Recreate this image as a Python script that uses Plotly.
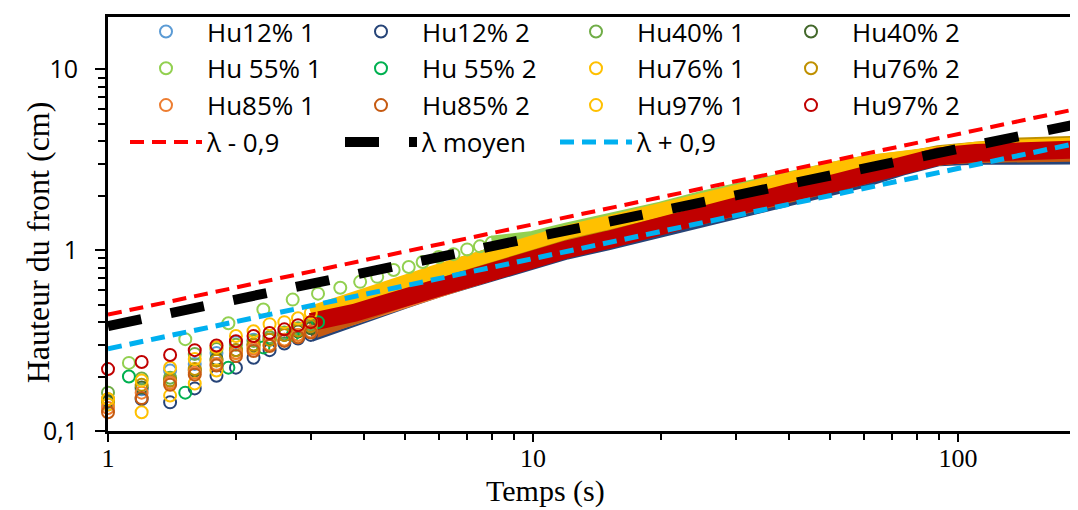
import plotly.graph_objects as go

# ---------------- data ----------------
T = [1.0, 1.2, 1.4, 1.6, 1.8, 2.0, 2.2, 2.4, 2.6, 2.8, 3.0, 3.4, 3.8, 4.4, 5.0, 6.0, 7.0, 8.5,
     10, 12, 15, 20, 25, 32, 40, 50, 60, 75, 90, 110, 140, 190]
T55 = [1.12, 1.52, 1.92, 2.32, 2.72, 3.12, 3.52, 3.92, 4.3, 4.7, 5.1, 5.5, 6.0, 6.5, 7.0, 7.5, 8.0,
       10, 12, 15, 20, 25, 32, 40, 50, 60, 75, 90, 110, 140, 190]

HU12_1 = [0.14, 0.17, 0.216, 0.235, 0.27, 0.31, 0.32, 0.33, 0.345, 0.36, 0.375, 0.40, 0.44, 0.49, 0.54, 0.62,
          0.70, 0.81, 0.91, 1.02, 1.15, 1.36, 1.55, 1.80, 2.03, 2.28, 2.56, 2.95, 3.24, 3.32, 3.36, 3.40]
HU12_2 = [0.148, 0.15, 0.144, 0.172, 0.202, 0.224, 0.254, 0.28, 0.305, 0.325, 0.34, 0.38, 0.42, 0.47, 0.52, 0.60,
          0.67, 0.77, 0.87, 0.97, 1.09, 1.28, 1.45, 1.67, 1.88, 2.12, 2.42, 2.85, 3.18, 3.24, 3.25, 3.26]
HU40_1 = [0.163, 0.195, 0.197, 0.267, 0.284, 0.30, 0.315, 0.33, 0.35, 0.37, 0.39, 0.43, 0.49, 0.55, 0.61, 0.70,
          0.78, 0.90, 1.01, 1.14, 1.29, 1.52, 1.75, 2.02, 2.28, 2.55, 2.80, 3.08, 3.28, 3.42, 3.52, 3.60]
HU40_2 = [0.145, 0.174, 0.19, 0.216, 0.25, 0.28, 0.30, 0.32, 0.34, 0.355, 0.37, 0.41, 0.45, 0.50, 0.56, 0.65,
          0.73, 0.85, 0.95, 1.07, 1.21, 1.44, 1.64, 1.90, 2.14, 2.40, 2.68, 3.02, 3.30, 3.40, 3.46, 3.50]
HU55_1 = [0.238, 0.322, 0.394, 0.47, 0.533, 0.575, 0.62, 0.668, 0.712, 0.777, 0.808, 0.86, 0.916, 0.951, 1.01,
          1.05, 1.10, 1.17, 1.30, 1.45, 1.70, 1.95, 2.25, 2.52, 2.80, 3.05, 3.28, 3.45, 3.60, 3.72, 3.82]
HU55_2 = [0.20, 0.163, 0.224, 0.29, 0.34, 0.40, 0.46, 0.51, 0.56, 0.61, 0.66, 0.70, 0.76, 0.81, 0.86, 0.90,
          0.95, 1.08, 1.20, 1.36, 1.60, 1.82, 2.10, 2.38, 2.65, 2.92, 3.18, 3.38, 3.52, 3.62, 3.70]
HU76_1 = [0.14, 0.127, 0.157, 0.183, 0.216, 0.27, 0.29, 0.30, 0.32, 0.34, 0.40, 0.46, 0.50, 0.56, 0.62, 0.72,
          0.80, 0.93, 1.04, 1.17, 1.32, 1.56, 1.79, 2.06, 2.33, 2.60, 2.84, 3.07, 3.23, 3.37, 3.48, 3.57]
HU76_2 = [0.15, 0.18, 0.19, 0.22, 0.245, 0.28, 0.30, 0.32, 0.34, 0.36, 0.38, 0.44, 0.48, 0.53, 0.59, 0.68,
          0.76, 0.88, 0.99, 1.11, 1.26, 1.49, 1.71, 1.98, 2.26, 2.55, 2.85, 3.20, 3.48, 3.70, 3.84, 3.92]
HU85_1 = [0.134, 0.163, 0.185, 0.21, 0.235, 0.27, 0.285, 0.30, 0.32, 0.34, 0.355, 0.39, 0.43, 0.48, 0.53, 0.61,
          0.69, 0.80, 0.90, 1.01, 1.14, 1.35, 1.53, 1.78, 2.00, 2.25, 2.55, 2.95, 3.25, 3.33, 3.38, 3.42]
HU85_2 = [0.127, 0.152, 0.18, 0.205, 0.23, 0.26, 0.277, 0.295, 0.315, 0.33, 0.35, 0.39, 0.43, 0.48, 0.54, 0.62,
          0.69, 0.80, 0.90, 1.00, 1.13, 1.33, 1.51, 1.74, 1.96, 2.21, 2.52, 2.94, 3.26, 3.32, 3.35, 3.38]
HU97_1 = [0.15, 0.19, 0.224, 0.25, 0.29, 0.335, 0.356, 0.39, 0.40, 0.42, 0.45, 0.50, 0.54, 0.60, 0.67, 0.77,
          0.86, 1.00, 1.12, 1.26, 1.42, 1.68, 1.92, 2.22, 2.50, 2.80, 3.05, 3.30, 3.50, 3.64, 3.75, 3.84]
HU97_2 = [0.22, 0.241, 0.263, 0.28, 0.297, 0.314, 0.335, 0.348, 0.365, 0.385, 0.40, 0.42, 0.45, 0.50, 0.55, 0.63,
          0.70, 0.80, 0.90, 1.01, 1.14, 1.38, 1.58, 1.85, 2.08, 2.32, 2.62, 3.00, 3.30, 3.45, 3.53, 3.60]

LAMBDA_T = [1, 200]
LAMBDA_MINUS = [0.44, 6.2]
LAMBDA_MEAN = [0.38, 5.1]
LAMBDA_PLUS = [0.285, 4.0]

X_TICKS = [1, 10, 100]
X_TICKTEXT = ["1", "10", "100"]
Y_TICKS = [0.1, 1, 10]
Y_TICKTEXT = ["0,1", "1", "10"]

# name, times, heights
SERIES = [
    ("Hu12% 1", T, HU12_1),
    ("Hu12% 2", T, HU12_2),
    ("Hu40% 1", T, HU40_1),
    ("Hu40% 2", T, HU40_2),
    ("Hu 55% 1", T55, HU55_1),
    ("Hu 55% 2", T55, HU55_2),
    ("Hu76% 1", T, HU76_1),
    ("Hu76% 2", T, HU76_2),
    ("Hu85% 1", T, HU85_1),
    ("Hu85% 2", T, HU85_2),
    ("Hu97% 1", T, HU97_1),
    ("Hu97% 2", T, HU97_2),
]

# ---------------- styles ----------------
COLORS = {
    "Hu12% 1": "#5B9BD5", "Hu12% 2": "#264478",
    "Hu40% 1": "#70AD47", "Hu40% 2": "#43682B",
    "Hu 55% 1": "#92D050", "Hu 55% 2": "#00B050",
    "Hu76% 1": "#FFC000", "Hu76% 2": "#BF9000",
    "Hu85% 1": "#ED7D31", "Hu85% 2": "#C55A11",
    "Hu97% 1": "#FFC000", "Hu97% 2": "#C00000",
}
# how many early samples are drawn as separate circles; the rest form the dense band
N_RINGS = {"Hu 55% 1": 17, "Hu 55% 2": 6}
BAND_W = {"Hu97% 2": 18}

SANS = "Open Sans, Noto Sans, sans-serif"
SERIF = "Liberation Serif, serif"

fig = go.Figure()

# dense band (overlapping circles) drawn as thick strokes
for name, t, h in SERIES:
    n = N_RINGS.get(name, 11)
    fig.add_trace(go.Scatter(
        x=t[n - 1:], y=h[n - 1:], mode="lines", showlegend=False, hoverinfo="skip",
        line=dict(color=COLORS[name], width=BAND_W.get(name, 14)),
    ))

# individual early circles (legend entries)
for name, t, h in SERIES:
    n = N_RINGS.get(name, 11)
    fig.add_trace(go.Scatter(
        x=t[:n], y=h[:n], mode="markers", name=name, cliponaxis=False,
        marker=dict(symbol="circle-open", size=12, color=COLORS[name],
                    line=dict(width=2, color=COLORS[name])),
    ))

fig.add_trace(go.Scatter(x=LAMBDA_T, y=LAMBDA_MINUS, mode="lines", name="λ - 0,9",
                         line=dict(color="#FF0000", width=4, dash="14px,8px")))
fig.add_trace(go.Scatter(x=LAMBDA_T, y=LAMBDA_MEAN, mode="lines", name="λ moyen",
                         line=dict(color="#000000", width=10, dash="34px,30px")))
fig.add_trace(go.Scatter(x=LAMBDA_T, y=LAMBDA_PLUS, mode="lines", name="λ + 0,9",
                         line=dict(color="#00B0F0", width=5, dash="14px,8px")))

# page has an 8px body margin: the figure is placed at (8, 8) in the window
OFF = 8
W, H = 1078 - OFF, 510 - OFF
PLOT_L, PLOT_T, PLOT_B = 108, 12, 431          # plot area in window pixels
L, TOP, R = PLOT_L - OFF, PLOT_T - OFF, 0
B = 510 - PLOT_B
pw, ph = W - L - R, H - TOP - B
XR = [0, pw / 425.0]


def px(xw):
    return (xw - PLOT_L) / pw


def py(yw):
    return (PLOT_B - yw) / ph


fig.update_layout(
    width=W, height=H,
    margin=dict(l=L, r=R, t=TOP, b=B, pad=0),
    paper_bgcolor="white", plot_bgcolor="white",
    font=dict(family=SANS, size=25, color="black"),
    legend=dict(
        orientation="h", x=px(125), y=py(3), xanchor="left", yanchor="top",
        entrywidth=128, entrywidthmode="pixels", itemwidth=72,
        font=dict(family=SANS, size=26, color="black"),
        bgcolor="rgba(0,0,0,0)", traceorder="normal",
    ),
    xaxis=dict(
        type="log", range=XR, showgrid=False, zeroline=False,
        showline=True, linecolor="black", linewidth=3, mirror=True,
        tickmode="array", tickvals=X_TICKS, ticktext=X_TICKTEXT,
        ticks="outside", ticklen=8, tickwidth=2, tickcolor="black",
        ticklabelstandoff=-6,
        tickfont=dict(family=SERIF, size=26, color="black"),
        minor=dict(tickvals=[2, 3, 4, 5, 6, 7, 8, 9, 20, 30, 40, 50, 60, 70, 80, 90],
                   ticks="outside", ticklen=6, tickwidth=1.5, tickcolor="black"),
    ),
    # inner half of the major ticks, which cross the axis line
    xaxis2=dict(
        type="log", range=XR, overlaying="x", anchor="y", side="bottom",
        showgrid=False, zeroline=False, showline=False, showticklabels=False,
        tickmode="array", tickvals=X_TICKS, ticks="inside", ticklen=8, tickwidth=2, tickcolor="black",
    ),
    yaxis=dict(
        type="log", range=[-1, -1 + ph / 183.0], showgrid=False, zeroline=False,
        showline=True, linecolor="black", linewidth=3,
        tickmode="array", tickvals=Y_TICKS, ticktext=Y_TICKTEXT,
        ticks="outside", ticklen=10, tickwidth=2, tickcolor="black",
        ticklabelstandoff=12,
        tickfont=dict(family=SANS, size=25, color="black"),
        minor=dict(tickvals=[0.2, 0.3, 0.4, 0.5, 0.6, 0.7, 0.8, 0.9, 2, 3, 4, 5, 6, 7, 8, 9],
                   ticks="outside", ticklen=7, tickwidth=1.5, tickcolor="black"),
    ),
    annotations=[
        dict(text="Temps (s)", xref="paper", yref="paper",
             x=px(545), y=py(492), xanchor="center", yanchor="middle",
             showarrow=False, font=dict(family=SERIF, size=30, color="black")),
        dict(text="Hauteur du front (cm)", xref="paper", yref="paper", textangle=-90,
             x=px(38), y=py(240), xanchor="center", yanchor="middle",
             showarrow=False, font=dict(family=SERIF, size=32, color="black")),
    ],
)

fig.write_html("out.html")
